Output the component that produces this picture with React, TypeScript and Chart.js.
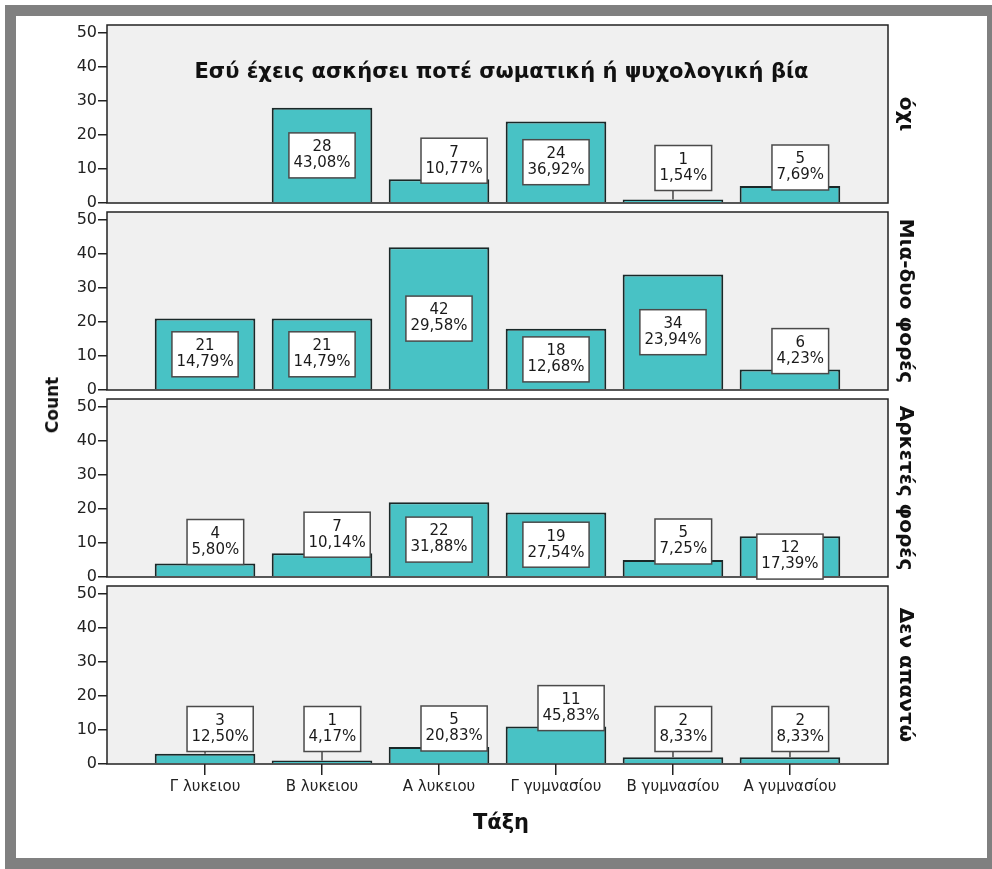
import React, { useEffect, useRef } from "react";
import { Chart, registerables } from "chart.js";

Chart.register(...registerables);

// ---------- data ----------
const categories = ["Γ λυκειου", "Β λυκειου", "Α λυκειου", "Γ γυμνασίου", "Β γυμνασίου", "Α γυμνασίου"];
const panelLabels = ["όχι", "Μια-δυο φορές", "Αρκετές φορές", "Δεν απαντώ"];
const countsOxi = [0, 28, 7, 24, 1, 5];
const countsMiaDyo = [21, 21, 42, 18, 34, 6];
const countsArketes = [4, 7, 22, 19, 5, 12];
const countsDenApanto = [3, 1, 5, 11, 2, 2];
const yTicks = [0, 10, 20, 30, 40, 50];
const chartTitle = "Εσύ έχεις ασκήσει ποτέ σωματική ή ψυχολογική βία";
const xTitle = "Τάξη";
const yTitle = "Count";

const panelSeries = [countsOxi, countsMiaDyo, countsArketes, countsDenApanto];

// ---------- layout / style ----------
const FONT = "'DejaVu Sans', sans-serif";
const BAR_FILL = "#48c2c5";
const BAR_EDGE = "#1a2828";
const PANEL_BG = "#f0f0f0";
const PANEL_TOPS = [25, 212, 399, 586];
const PANEL_H = 178;
const CANVAS_LEFT = 16;
const CANVAS_W = 971;
const Y_AXIS_W = 91;
const PAD_RIGHT = 99;
const PAD_V = 20;
const X_AXIS_H = 40;
const Y_MAX = 52.35;

function pctText(counts: number[], i: number) {
  const total = counts.reduce((a, b) => a + b, 0);
  return ((counts[i] / total) * 100).toFixed(2).replace(".", ",") + "%";
}

function makePlugin(counts: number[], label: string, showTitle: boolean) {
  return {
    id: "panelDeco",
    beforeDraw(chart: any) {
      const { ctx, chartArea: a } = chart;
      ctx.save();
      ctx.fillStyle = PANEL_BG;
      ctx.fillRect(a.left, a.top, a.right - a.left, a.bottom - a.top);
      ctx.restore();
    },
    afterDatasetsDraw(chart: any) {
      const { ctx, chartArea: a } = chart;
      ctx.save();
      // panel frame
      ctx.strokeStyle = "#222";
      ctx.lineWidth = 1.5;
      ctx.strokeRect(a.left, a.top, a.right - a.left, a.bottom - a.top);

      // value labels
      const meta = chart.getDatasetMeta(0);
      ctx.font = `15px ${FONT}`;
      meta.data.forEach((bar: any, i: number) => {
        const v = counts[i];
        if (!v) return;
        const x = bar.x;
        const top = bar.y;
        const base = a.bottom;
        const h = base - top;
        const l1 = String(v);
        const l2 = pctText(counts, i);
        const w = Math.max(ctx.measureText(l1).width, ctx.measureText(l2).width) + 9;
        const bh = 45;
        let cx: number;
        let cy: number;
        if (h >= 40) {
          cx = x;
          cy = top + h / 2;
        } else {
          cx = x - 18 + w / 2;
          cy = base - Math.max(h + 18.5, 35);
        }
        const bx = cx - w / 2;
        const by = cy - bh / 2;
        if (by + bh < top - 1) {
          ctx.strokeStyle = "#444";
          ctx.lineWidth = 1.5;
          ctx.beginPath();
          ctx.moveTo(x, by + bh);
          ctx.lineTo(x, top);
          ctx.stroke();
        }
        ctx.fillStyle = "#ffffff";
        ctx.fillRect(bx, by, w, bh);
        ctx.strokeStyle = "#4a4a4a";
        ctx.lineWidth = 1.5;
        ctx.strokeRect(bx, by, w, bh);
        ctx.fillStyle = "#1a1a1a";
        ctx.textAlign = "center";
        ctx.textBaseline = "middle";
        ctx.fillText(l1, cx, cy - 8);
        ctx.fillText(l2, cx, cy + 8);
      });

      // right-hand panel label
      ctx.save();
      ctx.translate(a.right + 17, (a.top + a.bottom) / 2);
      ctx.rotate(Math.PI / 2);
      ctx.font = `bold 20px ${FONT}`;
      ctx.fillStyle = "#111";
      ctx.textAlign = "center";
      ctx.textBaseline = "middle";
      ctx.fillText(label, 0, 0);
      ctx.restore();

      if (showTitle) {
        ctx.font = `bold 21px ${FONT}`;
        ctx.fillStyle = "#111";
        ctx.textAlign = "center";
        ctx.textBaseline = "middle";
        ctx.fillText(chartTitle, (a.left + a.right) / 2 + 4, a.top + 48);
      }
      ctx.restore();
    },
  };
}

function Panel({ index }: { index: number }) {
  const ref = useRef<HTMLCanvasElement | null>(null);
  const counts = panelSeries[index];
  const showX = index === panelSeries.length - 1;
  const height = PAD_V + PANEL_H + (showX ? X_AXIS_H : 0) + PAD_V;

  useEffect(() => {
    if (!ref.current) return;
    const chart = new Chart(ref.current, {
      type: "bar",
      data: {
        datasets: [
          {
            data: counts.map((v, i) => ({ x: i, y: v > 0 ? v : null })),
            backgroundColor: BAR_FILL,
            borderColor: BAR_EDGE,
            borderWidth: 2,
            categoryPercentage: 1,
            barPercentage: 0.86,
          } as any,
        ],
      },
      options: {
        responsive: false,
        animation: false,
        devicePixelRatio: 1,
        layout: { padding: { top: PAD_V, bottom: PAD_V, left: 0, right: PAD_RIGHT } },
        plugins: {
          legend: { display: false },
          tooltip: { enabled: false },
          title: { display: false },
        },
        scales: {
          x: {
            type: "linear",
            min: -0.838,
            max: categories.length - 1 + 0.838,
            offset: false,
            display: showX,
            afterBuildTicks: (s: any) => {
              s.ticks = categories.map((_, i) => ({ value: i }));
            },
            afterFit: (s: any) => {
              s.height = showX ? X_AXIS_H : 0;
            },
            grid: {
              offset: false,
              drawOnChartArea: false,
              drawTicks: true,
              tickLength: 11,
              color: "#222",
              lineWidth: 1.5,
            },
            border: { display: false },
            ticks: {
              callback: (v: any) => categories[v] ?? "",
              font: { family: FONT, size: 15 },
              color: "#222",
              padding: 3,
              maxRotation: 0,
              autoSkip: false,
            },
          } as any,
          y: {
            type: "linear",
            min: 0,
            max: Y_MAX,
            afterBuildTicks: (s: any) => {
              s.ticks = yTicks.map((v) => ({ value: v }));
            },
            afterFit: (s: any) => {
              s.width = Y_AXIS_W;
            },
            grid: {
              drawOnChartArea: false,
              drawTicks: true,
              tickLength: 9,
              color: "#222",
              lineWidth: 1.5,
            },
            border: { display: false },
            ticks: {
              font: { family: FONT, size: 16 },
              color: "#222",
              padding: 1,
            },
          } as any,
        },
      },
      plugins: [makePlugin(counts, panelLabels[index], index === 0)],
    });
    return () => chart.destroy();
  }, []);

  return (
    <canvas
      ref={ref}
      width={CANVAS_W}
      height={height}
      style={{
        position: "absolute",
        left: CANVAS_LEFT,
        top: PANEL_TOPS[index] - PAD_V,
        width: CANVAS_W,
        height,
      }}
    />
  );
}

export default function App() {
  return (
    <div
      style={{
        position: "absolute",
        left: 0,
        top: 0,
        width: 992,
        height: 869,
        overflow: "hidden",
        background: "#ffffff",
      }}
    >
      <div
        style={{
          position: "absolute",
          left: 5,
          top: 5,
          width: 993,
          height: 864,
          boxSizing: "border-box",
          border: "11px solid #808080",
          background: "#ffffff",
        }}
      />
      {panelSeries.map((_, i) => (
        <Panel key={i} index={i} />
      ))}
      <div
        style={{
          position: "absolute",
          left: 52,
          top: 405,
          transform: "translate(-50%, -50%) rotate(-90deg)",
          font: `bold 17px ${FONT}`,
          color: "#111",
          whiteSpace: "nowrap",
        }}
      >
        {yTitle}
      </div>
      <div
        style={{
          position: "absolute",
          left: 501,
          top: 822,
          transform: "translate(-50%, -50%)",
          font: `bold 21px ${FONT}`,
          color: "#111",
          whiteSpace: "nowrap",
        }}
      >
        {xTitle}
      </div>
    </div>
  );
}
